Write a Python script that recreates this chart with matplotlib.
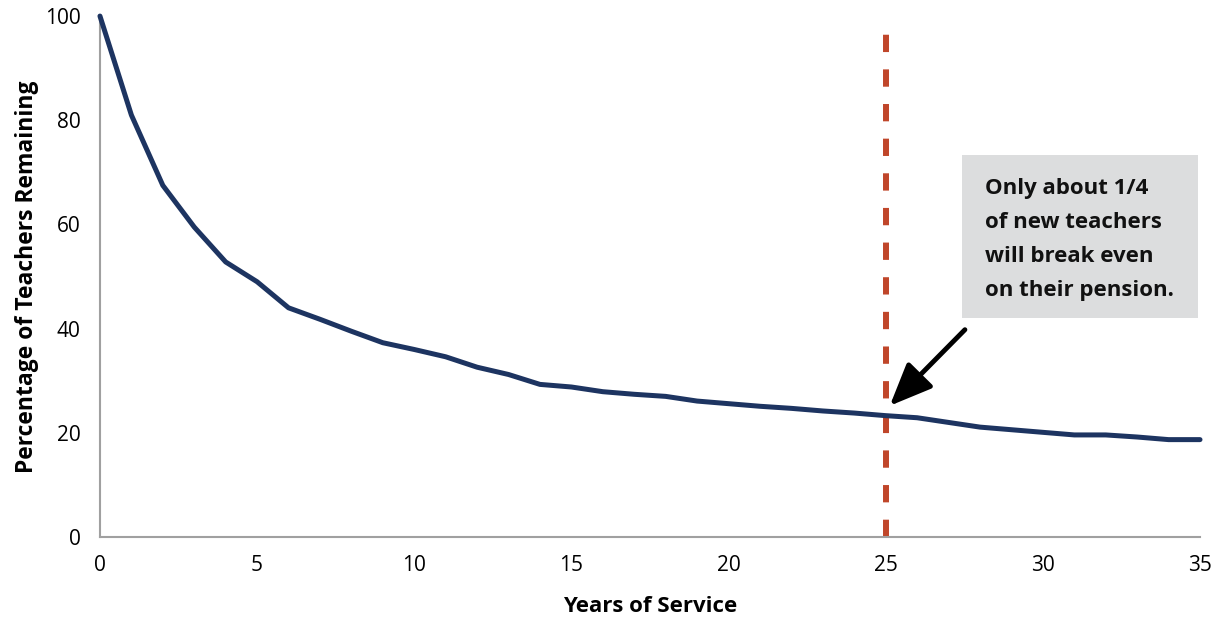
import matplotlib
matplotlib.use("Agg")
import matplotlib.pyplot as plt
from matplotlib.patches import Rectangle

# Share of a new-teacher cohort still teaching, by years of service
years = list(range(36))
remaining = [100.0, 81.0, 67.5, 59.5, 52.8, 49.0, 44.0, 41.8, 39.5, 37.3,
             36.0, 34.6, 32.6, 31.2, 29.3, 28.8, 27.9, 27.4, 27.0, 26.1,
             25.6, 25.1, 24.7, 24.2, 23.8, 23.3, 22.9, 22.0, 21.1, 20.6,
             20.1, 19.6, 19.6, 19.2, 18.7, 18.7]

break_even_year = 25
note_lines = ["Only about 1/4", "of new teachers", "will break even", "on their pension."]

plt.rcParams["font.family"] = ["Open Sans", "DejaVu Sans"]

fig = plt.figure(figsize=(12.22, 6.18), dpi=100)
ax = fig.add_axes([0.0818, 0.131, 0.9002, 0.843])

ax.plot(years, remaining, color="#1d3461", lw=3.6, clip_on=False,
        solid_capstyle="round", solid_joinstyle="round", zorder=3)
ax.plot([break_even_year, break_even_year], [0, 97], color="#c0462a",
        lw=4.3, dashes=(2.9, 2.9), zorder=2)

ax.set_xlim(0, 35)
ax.set_ylim(0, 100)
ax.set_xticks([0, 5, 10, 15, 20, 25, 30, 35])
ax.set_yticks([0, 20, 40, 60, 80, 100])
ax.tick_params(axis="both", length=0, labelsize=15)
ax.tick_params(axis="x", pad=13)
ax.tick_params(axis="y", pad=14)
ax.set_xticks([0], minor=True)
ax.set_yticks([0], minor=True)
ax.tick_params(which="minor", length=8, width=1.5, color="#a0a0a0",
               direction="out")
for side in ["top", "right"]:
    ax.spines[side].set_visible(False)
for side in ["left", "bottom"]:
    ax.spines[side].set_color("#a0a0a0")
    ax.spines[side].set_linewidth(1.5)

ax.set_xlabel("Years of Service", fontsize=16, fontweight="bold", labelpad=14)
ax.set_ylabel("Percentage of Teachers Remaining", fontsize=16.5,
              fontweight="bold", labelpad=4)

# annotation box
ax.add_patch(Rectangle((27.43, 42.1), 7.5, 31.2, facecolor="#dcddde",
                       edgecolor="none", zorder=1, clip_on=False))
ax.text(28.15, 69.0, "\n".join(note_lines), fontsize=16, fontweight="bold",
        va="top", ha="left", linespacing=1.82, color="#111111", zorder=4)

ax.annotate("", xy=(25.13, 25.2), xytext=(27.52, 39.8),
            arrowprops=dict(arrowstyle="-|>,head_length=2.6,head_width=1.1",
                            color="black", lw=3.5, shrinkA=0, shrinkB=0),
            zorder=5)

fig.savefig("out.png", dpi=100)
